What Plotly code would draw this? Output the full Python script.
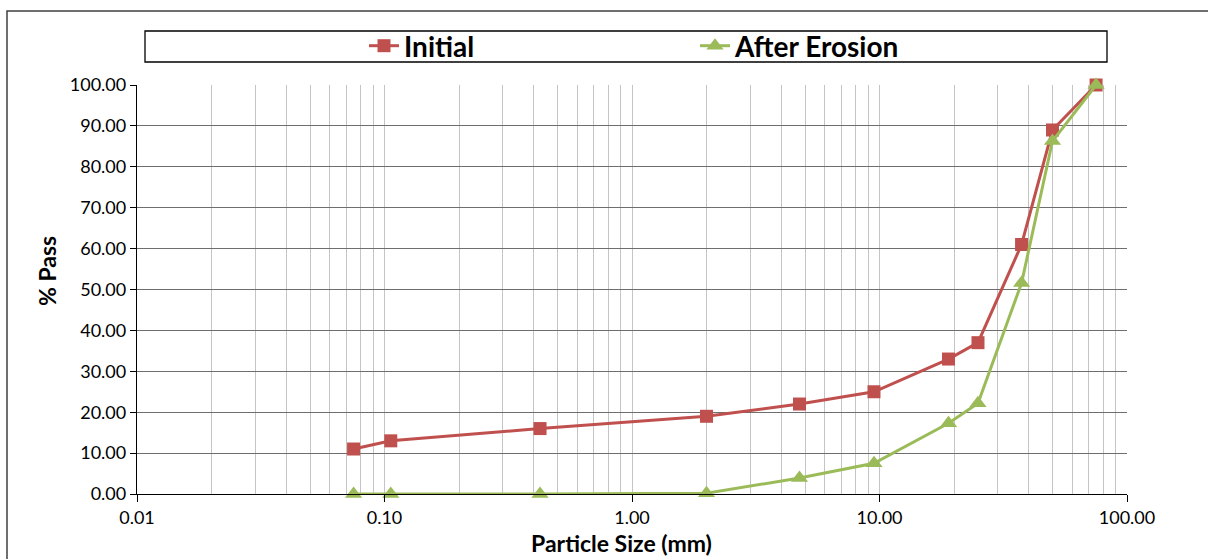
import plotly.graph_objects as go

# ---- data ----
sizes_mm = [0.075, 0.106, 0.425, 2.0, 4.75, 9.5, 19.0, 25.0, 37.5, 50.0, 75.0]
initial_pass = [11.0, 13.0, 16.0, 19.0, 22.0, 25.0, 33.0, 37.0, 61.0, 89.0, 100.0]
after_erosion_pass = [0.0, 0.0, 0.0, 0.2, 3.9, 7.5, 17.3, 22.2, 51.6, 86.3, 100.0]

x_tick_vals = [0.01, 0.1, 1, 10, 100]
x_tick_text = ["0.01", "0.10", "1.00", "10.00", "100.00"]
minor_vals = [m * d for d in [0.01, 0.1, 1, 10] for m in range(2, 10)]

# ---- layout geometry (pixels) ----
W, H = 1208, 559
L, R, T, B = 137, 1127, 85, 494
pw, ph = R - L, B - T


def px_x(px):
    return (px - L) / pw


def px_y(py):
    return (B - py) / ph


FONT = "Lato"
RED = "#C0504D"
GREEN = "#9BBB59"

fig = go.Figure()
fig.add_trace(go.Scatter(
    x=sizes_mm, y=initial_pass, name="Initial", mode="lines+markers",
    line=dict(color=RED, width=3),
    marker=dict(symbol="square", size=13, color=RED),
    cliponaxis=False,
))
fig.add_trace(go.Scatter(
    x=sizes_mm, y=after_erosion_pass, name="After Erosion", mode="lines+markers",
    line=dict(color=GREEN, width=3),
    marker=dict(symbol="triangle-up", size=15, color=GREEN),
    cliponaxis=False,
))

fig.update_layout(
    width=W, height=H,
    margin=dict(l=L, r=W - R, t=T, b=H - B),
    paper_bgcolor="white", plot_bgcolor="white",
    font=dict(family=FONT, size=18, color="#000000"),
    showlegend=True,
    legend=dict(
        orientation="h", x=px_x(364), xanchor="left", y=px_y(46), yanchor="middle",
        font=dict(family=FONT, size=28, color="#000000", weight="bold"),
        entrywidth=286, entrywidthmode="pixels",
        bgcolor="rgba(0,0,0,0)", borderwidth=0,
    ),
    xaxis=dict(
        type="log", range=[-2, 2],
        tickmode="array", tickvals=x_tick_vals, ticktext=x_tick_text,
        showgrid=True, gridcolor="#C4C4C4", gridwidth=1.3,
        minor=dict(tickmode="array", tickvals=minor_vals, showgrid=True,
                   gridcolor="#C4C4C4", gridwidth=1.3, ticks=""),
        ticks="outside", ticklen=7, tickcolor="#000000", tickwidth=1,
        showline=True, linecolor="#000000", linewidth=1.3,
        tickfont=dict(family=FONT, size=18),
        zeroline=False,
    ),
    yaxis=dict(
        range=[0, 100], dtick=10, tick0=0, tickformat=".2f",
        showgrid=True, gridcolor="#6E6E6E", gridwidth=1.3,
        ticks="outside", ticklen=6, tickcolor="#000000", tickwidth=1,
        showline=True, linecolor="#000000", linewidth=1.3,
        tickfont=dict(family=FONT, size=18),
        zeroline=False,
    ),
    shapes=[
        dict(type="rect", xref="paper", yref="paper",
             x0=px_x(145), x1=px_x(1107), y0=px_y(62), y1=px_y(31),
             line=dict(color="#000000", width=1.3), fillcolor="rgba(0,0,0,0)", layer="below"),
        dict(type="rect", xref="paper", yref="paper",
             x0=px_x(7), x1=px_x(1215), y0=px_y(570), y1=px_y(11),
             line=dict(color="#404040", width=1.5), fillcolor="rgba(0,0,0,0)", layer="below"),
    ],
    annotations=[
        dict(text="<b>Particle Size (mm)</b>", xref="paper", yref="paper",
             x=px_x(621), y=px_y(543), xanchor="center", yanchor="middle",
             showarrow=False, font=dict(family=FONT, size=23, color="#000000")),
        dict(text="<b>% Pass</b>", xref="paper", yref="paper",
             x=px_x(47), y=px_y(271), xanchor="center", yanchor="middle",
             textangle=-90, showarrow=False,
             font=dict(family=FONT, size=23, color="#000000")),
    ],
)

fig.write_html("out.html")
